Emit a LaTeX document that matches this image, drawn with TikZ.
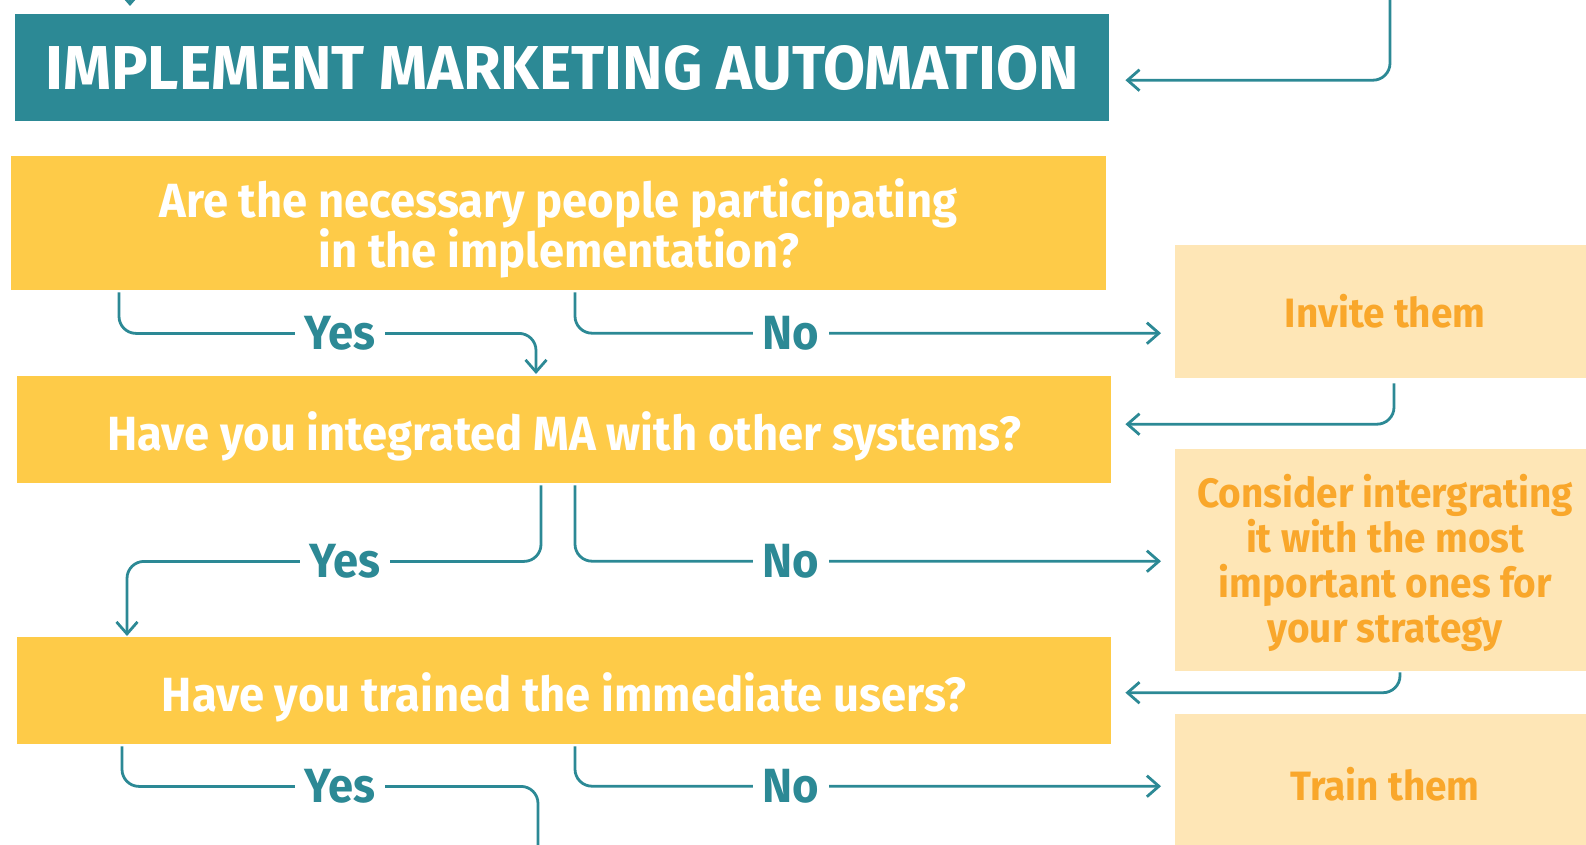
\documentclass[tikz,border=0pt]{standalone}
\usepackage{fontspec}
\setmainfont{Fira Sans}
\newfontfamily\chartfont[FakeStretch=0.945]{Fira Sans}
\newfontfamily\headfont[FakeStretch=0.985]{Fira Sans}
\usetikzlibrary{arrows.meta}
\definecolor{tealc}{HTML}{2C8995}
\definecolor{yellowc}{HTML}{FECB48}
\definecolor{lightc}{HTML}{FEE6B6}
\definecolor{orangec}{HTML}{F9A72B}
% invisible strut that lowers the text block inside a box
\newcommand{\liftstrut}[1]{\rule{0pt}{#1}}
\tikzset{
  x=1pt, y=1pt,
  titlebox/.style={fill=tealc, text=white, inner sep=0pt, anchor=north west,
    font=\headfont\bfseries\fontsize{62}{62}\selectfont},
  qbox/.style={fill=yellowc, text=white, inner sep=0pt, anchor=north west, align=center,
    minimum width=1094pt, font=\chartfont\bfseries\fontsize{48}{47}\selectfont},
  abox/.style={fill=lightc, text=orangec, inner sep=0pt, anchor=north west, align=center,
    minimum width=420pt, font=\chartfont\bfseries\fontsize{41}{45}\selectfont},
  conn/.style={draw=tealc, line width=2.8pt, rounded corners=17pt,
    -{Straight Barb[length=12pt, width=21pt]}},
  plainconn/.style={draw=tealc, line width=2.8pt, rounded corners=17pt},
  lbl/.style={fill=white, text=tealc, inner xsep=10pt, inner ysep=2pt,
    font=\chartfont\bfseries\fontsize{48}{48}\selectfont}
}
\begin{document}
\begin{tikzpicture}
\useasboundingbox (0,0) rectangle (1586,-845);

% boxes
\node[titlebox, minimum width=1094pt, minimum height=107pt] (title) at (15,-14) {IMPLEMENT MARKETING AUTOMATION};
\node[qbox, minimum width=1095pt, minimum height=134pt] (q1) at (11,-156) {\liftstrut{49pt}Are the necessary people participating\\in the implementation?};
\node[qbox, minimum height=107pt] (q2) at (17,-376) {\liftstrut{52pt}Have you integrated MA with other systems?};
\node[qbox, minimum height=107pt] (q3) at (17,-637) {\liftstrut{52pt}Have you trained the immediate users?};
\node[abox, minimum height=133pt] (a1) at (1175,-245) {Invite them};
\node[abox, minimum height=222pt] (a2) at (1175,-449) {\liftstrut{39pt}Consider intergrating\\it with the most\\important ones for\\your strategy};
\node[abox, minimum height=140pt] (a3) at (1175,-714) {Train them};

% loose ends of connectors leaving the drawing
\coordinate (topin) at (130,10);
\coordinate (rightin) at (1390,10);
\coordinate (yes3out) at (538,-860);

% connectors into the title box
\draw[conn, shorten >=8pt] (topin) -- ([xshift=115pt]title.north west);
\draw[conn, shorten >=16pt] (rightin) |- ([yshift=-12.5pt]title.east);

% question 1
\draw[conn, shorten <=2pt, shorten >=2pt] ([xshift=108pt]q1.south west) -- ++(0,-43) -| ([xshift=519pt]q2.north west);
\draw[conn, shorten <=2pt, shorten >=14pt] ([xshift=564pt]q1.south west) |- ([yshift=-21.5pt]a1.west);
\draw[conn, shorten <=5pt, shorten >=14pt] ([xshift=219pt]a1.south west) |- ([yshift=5.5pt]q2.east);
\node[lbl] (yes1) at (340,-333) {Yes};
\node[lbl] (no1) at (791,-333) {No};

% question 2
\draw[conn, shorten <=2pt, shorten >=1pt] ([xshift=524pt]q2.south west) -- ++(0,-78) -| ([xshift=110pt]q3.north west);
\draw[conn, shorten <=2pt, shorten >=14pt] ([xshift=558pt]q2.south west) |- ([yshift=-1pt]a2.west);
\draw[conn, shorten <=1pt, shorten >=14pt] ([xshift=225pt]a2.south west) |- ([yshift=-2pt]q3.east);
\node[lbl] (yes2) at (345,-561) {Yes};
\node[lbl] (no2) at (791,-561) {No};

% question 3
\draw[plainconn, shorten <=2pt] ([xshift=105pt]q3.south west) -- ++(0,-42) -| (yes3out);
\draw[conn, shorten <=2pt, shorten >=14pt] ([xshift=558pt]q3.south west) |- ([yshift=-2pt]a3.west);
\node[lbl] (yes3) at (340,-786) {Yes};
\node[lbl] (no3) at (791,-786) {No};
\end{tikzpicture}
\end{document}
